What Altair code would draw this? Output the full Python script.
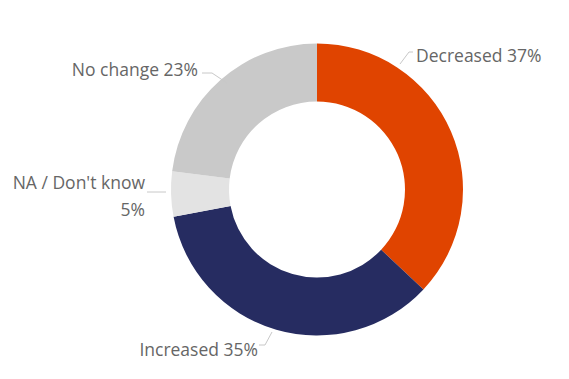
import altair as alt
import pandas as pd

# ---- data ----
categories = ["Decreased", "Increased", "NA / Don't know", "No change"]
values = [37, 35, 5, 23]
colors = ["#E04400", "#262C61", "#E3E3E3", "#C9C9C9"]

# ---- layout (pixels, relative to donut centre) ----
W, H = 553, 363
CX, CY = 309, 181.5
R_OUT, R_IN = 146, 88
FONT = "Open Sans"
FONT_SIZE = 17.5
TEXT_COLOR = "#666666"

label_pos = {
    "Decreased": (99, -132.5, "left"),
    "Increased": (-59, 161, "right"),
    "NA / Don't know": (-172, -6, "right"),
    "No change": (-119, -119, "right"),
}
leader_pts = {
    "Decreased": [(83, -125.5), (92, -137.5), (96, -137.5)],
    "Increased": [(-58, 155.5), (-52, 155.5), (-45, 142.5)],
    "NA / Don't know": [(-170, 2.5), (-151, 2.5)],
    "No change": [(-115, -116.5), (-105, -116.5), (-90, -106.5)],
}

df = pd.DataFrame({"category": categories, "value": values, "order": range(len(categories))})

lab_rows = []
for c, v in zip(categories, values):
    dx, dy, al = label_pos[c]
    sep = "\n" if c == "NA / Don't know" else " "
    lab_rows.append({"category": c, "label": f"{c}{sep}{v}%", "x": CX + dx, "y": CY + dy, "align": al})
lab_df = pd.DataFrame(lab_rows)

line_rows = []
for c in categories:
    for i, (dx, dy) in enumerate(leader_pts[c]):
        line_rows.append({"category": c, "i": i, "x": CX + dx, "y": CY + dy})
line_df = pd.DataFrame(line_rows)

xs = alt.Scale(domain=[0, W], range=[0, W], nice=False, zero=False)
ys = alt.Scale(domain=[0, H], range=[0, H], nice=False, zero=False)

arc = alt.Chart(df).mark_arc(outerRadius=R_OUT, innerRadius=R_IN).encode(
    theta=alt.Theta("value:Q", stack=True),
    order=alt.Order("order:Q"),
    color=alt.Color("category:N", scale=alt.Scale(domain=categories, range=colors), legend=None),
    x=alt.value(CX),
    y=alt.value(CY),
)

lines = alt.Chart(line_df).mark_line(color="#C8C8C8", strokeWidth=1).encode(
    x=alt.X("x:Q", scale=xs, axis=None),
    y=alt.Y("y:Q", scale=ys, axis=None),
    detail="category:N",
    order="i:Q",
)

def text_layer(al):
    return alt.Chart(lab_df).transform_filter(alt.datum.align == al).mark_text(
        align=al, baseline="middle", font=FONT, fontSize=FONT_SIZE,
        color=TEXT_COLOR, lineBreak="\n", lineHeight=27,
    ).encode(
        x=alt.X("x:Q", scale=xs, axis=None),
        y=alt.Y("y:Q", scale=ys, axis=None),
        text="label:N",
    )

chart = alt.layer(arc, lines, text_layer("left"), text_layer("right")).properties(
    width=W, height=H, autosize=alt.AutoSizeParams(type="none"), padding=0
).configure_view(stroke=None)

chart.save("out.html", embed_options={"renderer": "svg", "actions": False})
